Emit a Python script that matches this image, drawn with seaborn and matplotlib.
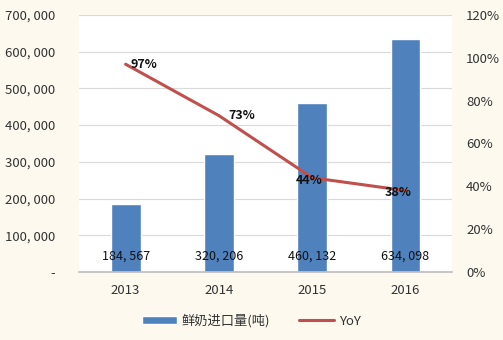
import matplotlib
matplotlib.use("Agg")
import matplotlib.pyplot as plt
import seaborn as sns
import pandas as pd
from matplotlib.ticker import FuncFormatter

years = ["2013", "2014", "2015", "2016"]
imports = [184567, 320206, 460132, 634098]
yoy = [0.97, 0.73, 0.44, 0.38]
bar_label = "鲜奶进口量(吨)"
line_label = "YoY"

sns.set_theme(style="white")
plt.rcParams['font.family'] = ['Noto Sans CJK SC', 'DejaVu Sans']

df = pd.DataFrame({"year": years, "imports": imports, "yoy": yoy})

fig = plt.figure(figsize=(5.03, 3.4), dpi=100, facecolor="#FDF9EF")
ax = fig.add_axes([0.157, 0.2, 0.742, 0.756])
ax.set_facecolor("white")

sns.barplot(data=df, x="year", y="imports", color="#4F81BD", saturation=1,
            width=0.32, ax=ax, label=bar_label, zorder=2)
ax.set_ylim(0, 700000)
ax.set_yticks(range(0, 700001, 100000))
ax.yaxis.set_major_formatter(FuncFormatter(
    lambda v, p: "-" if v == 0 else f"{int(v):,}".replace(",", ", ")))
ax.grid(axis="y", color="#D9D9D9", linewidth=0.8, zorder=0)
ax.set_axisbelow(True)
ax.set_xlabel("")
ax.set_ylabel("")
for s in ["top", "right", "left"]:
    ax.spines[s].set_visible(False)
ax.spines["bottom"].set_color("#BFBFBF")
ax.tick_params(axis="both", length=0, labelsize=9.5, colors="#333333")
ax.tick_params(axis="x", pad=9)
ax.tick_params(axis="y", pad=17)

for i, v in enumerate(imports):
    ax.text(i, 44000, f"{v:,}".replace(",", ", "), ha="center", va="center",
            fontsize=9, color="#111111", zorder=5)

ax2 = ax.twinx()
sns.lineplot(data=df, x="year", y="yoy", color="#C0504D", linewidth=2.2,
             ax=ax2, label=line_label, legend=False, sort=False)
ax2.set_ylim(0, 1.2)
ax2.set_yticks([0, 0.2, 0.4, 0.6, 0.8, 1.0, 1.2])
ax2.yaxis.set_major_formatter(FuncFormatter(lambda v, p: f"{v*100:.0f}%"))
ax2.set_ylabel("")
for s in ["top", "right", "left", "bottom"]:
    ax2.spines[s].set_visible(False)
ax2.tick_params(axis="y", length=0, labelsize=9.5, colors="#333333", pad=10)
ax.set_xlim(-0.5, 3.5)

offsets = [(0.2, 0.0), (0.24, 0.0), (-0.03, -0.015), (-0.08, -0.01)]
for i, v in enumerate(yoy):
    dx, dy = offsets[i]
    ax2.text(i + dx, v + dy, f"{v*100:.0f}%", ha="center",
             va="center", fontsize=9, fontweight="bold", color="#111111")

h1, l1 = ax.get_legend_handles_labels()
h2, l2 = ax2.get_legend_handles_labels()
if ax.get_legend() is not None:
    ax.get_legend().remove()
leg = fig.legend(h1 + h2, l1 + l2, loc="center", bbox_to_anchor=(0.5, 0.056),
                 ncol=2, frameon=False, fontsize=9.5, handlelength=2.6,
                 handleheight=0.6, columnspacing=2.2, handletextpad=0.4)
for t in leg.get_texts():
    t.set_color("#333333")

fig.savefig("out.png", dpi=100, facecolor=fig.get_facecolor())
